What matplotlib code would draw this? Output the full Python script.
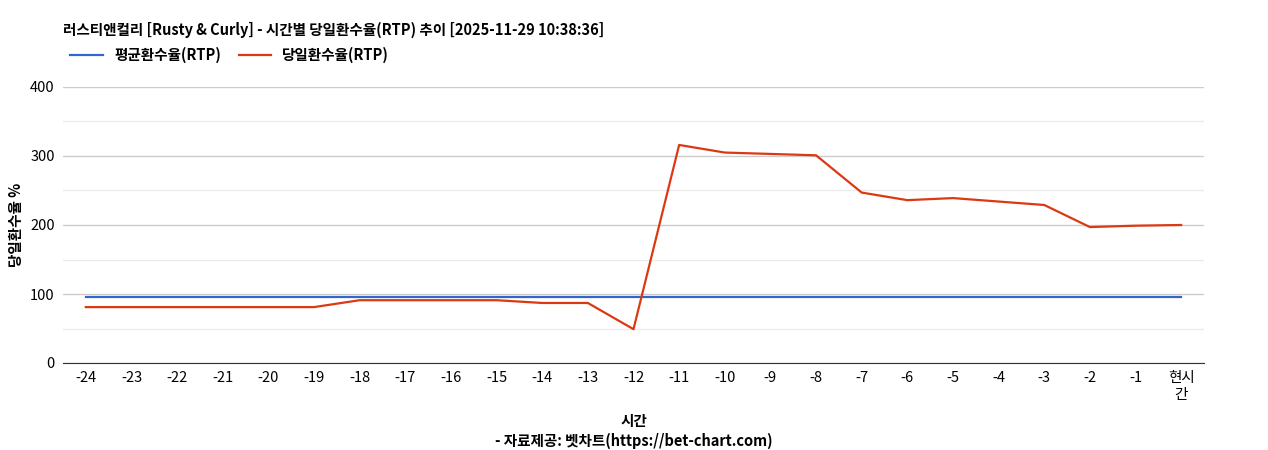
import matplotlib
matplotlib.use("Agg")
import matplotlib.pyplot as plt

plt.rcParams['font.family'] = ['Noto Sans CJK KR', 'DejaVu Sans']

labels = [str(i) for i in range(-24, 0)] + ["현시\n간"]
avg_rtp = [96] * 25
day_rtp = [81, 81, 81, 81, 81, 81, 91, 91, 91, 91, 87, 87, 49,
           316, 305, 303, 301, 247, 236, 239, 234, 229, 197, 199, 200]

fig = plt.figure(figsize=(12.68, 4.5), dpi=100)
ax = fig.add_axes([63/1268, 1-363/450, (1204-63)/1268, (363-87)/450])
x = list(range(len(labels)))
ax.plot(x, avg_rtp, color="#3366cc", lw=1.6, label="평균환수율(RTP)")
ax.plot(x, day_rtp, color="#dc3912", lw=1.6, label="당일환수율(RTP)")
ax.set_xlim(-0.5, len(labels) - 0.5)
ax.set_ylim(0, 400)
ax.set_yticks([0, 100, 200, 300, 400])
ax.set_yticks([50, 150, 250, 350], minor=True)
ax.grid(axis='y', which='major', color="#cccccc", lw=1)
ax.grid(axis='y', which='minor', color="#ebebeb", lw=1)
ax.set_axisbelow(True)
ax.set_xticks(x)
ax.set_xticklabels(labels, fontsize=10.5)
ax.tick_params(axis='both', which='both', length=0, labelsize=10.5, pad=6)
for s in ['top', 'right', 'left']:
    ax.spines[s].set_visible(False)
ax.spines['bottom'].set_color('#333333')
ax.set_ylabel("당일환수율 %", fontsize=10.5, fontweight='bold')
ax.set_xlabel("시간\n- 자료제공: 벳차트(https://bet-chart.com)", fontsize=10.5, fontweight='bold', labelpad=8, linespacing=1.3)
fig.text(63/1268, 1-30/450, "러스티앤컬리 [Rusty & Curly] - 시간별 당일환수율(RTP) 추이 [2025-11-29 10:38:36]",
         fontsize=10.5, fontweight='bold', va='center')
ax.legend(loc='center left', bbox_to_anchor=(-0.005, 1 + 32/276), ncol=2, frameon=False,
          prop={'size': 10.5, 'weight': 'bold'}, handlelength=2.2, columnspacing=1.2)
fig.savefig("out.png", dpi=100)
